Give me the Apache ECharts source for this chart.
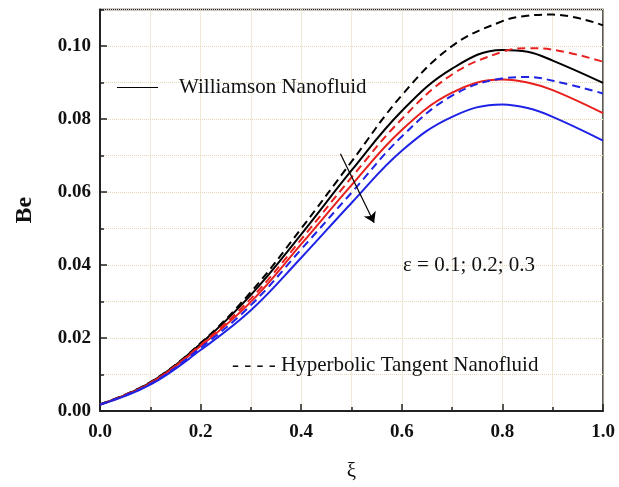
<!DOCTYPE html>
<html>
<head>
<meta charset="utf-8">
<script src="https://cdn.jsdelivr.net/npm/echarts@6/dist/echarts.min.js"></script>
<style>html,body{margin:0;padding:0;background:#fff}#c{width:619px;height:487px}</style>
</head>
<body>
<div id="c"></div>
<script>
// xi positions
const xi = [0, 0.1, 0.2, 0.3, 0.4, 0.5, 0.6, 0.7, 0.8, 0.85, 0.9, 1.0];
// Williamson nanofluid (solid)
const wEps01 = [0.0018, 0.0078, 0.0184, 0.0318, 0.0484, 0.0659, 0.0822, 0.0938, 0.0989, 0.0984, 0.0960, 0.0899];
const wEps02 = [0.0018, 0.0076, 0.0178, 0.0299, 0.0457, 0.0619, 0.0770, 0.0872, 0.0908, 0.0900, 0.0879, 0.0816];
const wEps03 = [0.0017, 0.0072, 0.0167, 0.0276, 0.0420, 0.0570, 0.0713, 0.0806, 0.0840, 0.0830, 0.0806, 0.0741];
// Hyperbolic tangent nanofluid (dashed)
const hEps01 = [0.0018, 0.0079, 0.0186, 0.0326, 0.0500, 0.0683, 0.0865, 0.1000, 0.1068, 0.1083, 0.1086, 0.1057];
const hEps02 = [0.0018, 0.0077, 0.0181, 0.0308, 0.0470, 0.0640, 0.0800, 0.0922, 0.0984, 0.0994, 0.0990, 0.0957];
const hEps03 = [0.0018, 0.0074, 0.0173, 0.0290, 0.0443, 0.0598, 0.0752, 0.0864, 0.0911, 0.0915, 0.0905, 0.0870];
const xTicks = [0.0, 0.2, 0.4, 0.6, 0.8, 1.0];
const yTicks = [0.00, 0.02, 0.04, 0.06, 0.08, 0.10];
// arrow annotation endpoints (data coords)
const arrowFrom = [0.478, 0.0705];
const arrowTo = [0.545, 0.0516];

const chart = echarts.init(document.getElementById('c'));
const pair = ys => xi.map((x, i) => [x, ys[i]]);
const BLACK = '#000000', RED = '#e8201e', BLUE = '#1f23e6';
const gridCol = '#e6d6b4';
function ser(name, ys, color, dashed) {
  return {
    name, type: 'line', data: pair(ys), smooth: 0.4, symbol: 'none',
    xAxisIndex: 0, yAxisIndex: 0,
    lineStyle: { color, width: 2, type: dashed ? [8, 5] : 'solid' },
    z: 3
  };
}
const series = [
  ser('W 0.1', wEps01, BLACK, false),
  ser('W 0.2', wEps02, RED, false),
  ser('W 0.3', wEps03, BLUE, false),
  ser('H 0.1', hEps01, BLACK, true),
  ser('H 0.2', hEps02, RED, true),
  ser('H 0.3', hEps03, BLUE, true)
];
series[0].markLine = {
  silent: true, symbol: ['none', 'arrow'], symbolSize: 10,
  label: { show: false },
  lineStyle: { color: '#000', width: 1.2, type: 'solid' },
  data: [[{ coord: arrowFrom }, { coord: arrowTo }]]
};
const font = '"Liberation Serif", "Times New Roman", serif';
chart.setOption({
  animation: false,
  grid: { left: 100, right: 16, top: 9.5, bottom: 71, show: true, borderColor: '#222', borderWidth: 1.5, backgroundColor: 'transparent' },
  xAxis: [{
    type: 'value', min: 0, max: 1, interval: 0.2,
    axisLine: { show: true, onZero: false, lineStyle: { color: '#222', width: 2 } },
    axisTick: { show: true, inside: true, length: 7, lineStyle: { color: '#222', width: 1.5 } },
    minorTick: { show: true, splitNumber: 2, length: 4, lineStyle: { color: '#222', width: 1.5 } },
    splitLine: { show: true, lineStyle: { color: gridCol, type: 'dotted', width: 1 } },
    minorSplitLine: { show: true, lineStyle: { color: gridCol, type: 'dotted', width: 1 } },
    axisLabel: { color: '#111', fontFamily: font, fontWeight: 'bold', fontSize: 19, margin: 12,
      formatter: v => xTicks.some(t => Math.abs(t - v) < 1e-9) ? v.toFixed(1) : '' },
    name: 'ξ', nameLocation: 'middle', nameGap: 50,
    nameTextStyle: { color: '#111', fontFamily: font, fontSize: 21 }
  }],
  yAxis: [{
    type: 'value', min: 0, max: 0.11, interval: 0.02,
    axisLine: { show: true, onZero: false, lineStyle: { color: '#222', width: 2 } },
    axisTick: { show: true, inside: true, length: 7, lineStyle: { color: '#222', width: 1.5 } },
    splitLine: { show: false },
    axisLabel: { color: '#111', fontFamily: font, fontWeight: 'bold', fontSize: 19, margin: 9, showMaxLabel: false,
      formatter: v => yTicks.some(t => Math.abs(t - v) < 1e-9) ? v.toFixed(2) : '' },
    name: 'Be', nameLocation: 'middle', nameGap: 63, nameRotate: 90,
    nameTextStyle: { color: '#111', fontFamily: font, fontSize: 24, fontWeight: 'bold' }
  }, {
    type: 'value', min: 0, max: 0.11, interval: 0.01, position: 'left',
    axisLine: { show: false },
    axisTick: { show: true, inside: true, length: 4, lineStyle: { color: '#222', width: 1.5 } },
    axisLabel: { show: false },
    splitLine: { show: true, lineStyle: { color: gridCol, type: 'dotted', width: 1 } }
  }],
  series,
  graphic: [
    { type: 'line', shape: { x1: 117, y1: 87.5, x2: 158, y2: 87.5 }, style: { stroke: '#000', lineWidth: 1 }, z: 10 },
    { type: 'text', x: 179, y: 87, style: { text: 'Williamson Nanofluid', font: '21px ' + font, fill: '#111', textVerticalAlign: 'middle' }, z: 10 },
    { type: 'text', x: 232, y: 365, style: { text: '- - - - Hyperbolic Tangent Nanofluid', font: '21px ' + font, fill: '#111', textVerticalAlign: 'middle' }, z: 10 },
    { type: 'text', x: 403, y: 265, style: { text: 'ε = 0.1; 0.2; 0.3', font: '21px ' + font, fill: '#111', textVerticalAlign: 'middle' }, z: 10 }
  ]
});
</script>
</body>
</html>
